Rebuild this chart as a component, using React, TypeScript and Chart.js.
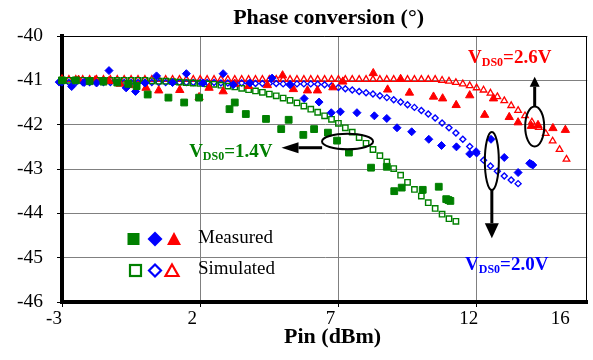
import React, { useEffect, useRef } from 'react';
import { Chart, registerables } from 'chart.js';

Chart.register(...registerables);

// ---------- axes ----------
const X_MIN = -3;
const X_MAX = 16;
const X_TICKS = [-3, 2, 7, 12];
const X_END_LABEL = '16';
const Y_MIN = -46;
const Y_MAX = -40;
const TITLE = 'Phase conversion (°)';
const X_TITLE = 'Pin (dBm)';

// ---------- measured (filled markers) ----------
const MEAS_14_PIN = [-3, -2.5, -2, -1.5, -1, -0.6, -0.3, 0.1, 0.85, 1.42, 1.96, 3.06, 3.25, 3.65, 4.38, 4.93, 5.2, 5.73, 6.12, 6.62, 6.95, 7.38, 8.18, 8.75, 9.02, 9.29, 10.05, 10.63, 10.9, 10.98, 11.05];
const MEAS_14_PHASE = [-41.0, -41.0, -41.02, -41.03, -41.05, -41.08, -41.13, -41.32, -41.39, -41.5, -41.39, -41.65, -41.5, -41.76, -41.87, -42.1, -41.89, -42.23, -42.1, -42.18, -42.36, -42.63, -42.97, -42.95, -43.5, -43.42, -43.47, -43.4, -43.68, -43.7, -43.72];

const MEAS_20_PIN = [-3.1, -2.65, -2.2, -1.75, -1.3, -0.68, -0.34, 0.0, 0.42, 1.0, 1.5, 2.1, 2.83, 3.2, 3.8, 4.6, 5.25, 5.76, 6.3, 6.74, 7.07, 7.67, 8.3, 8.75, 9.12, 9.65, 10.27, 10.73, 11.27, 11.75, 11.98, 12.52, 13.0, 13.5, 13.92, 13.98, 14.03];
const MEAS_20_PHASE = [-41.04, -41.14, -41.05, -41.06, -40.78, -41.17, -41.25, -41.06, -40.9, -41.05, -40.85, -41.06, -40.85, -41.1, -41.06, -40.95, -41.1, -41.41, -41.49, -41.73, -41.71, -41.73, -41.8, -41.86, -42.07, -42.16, -42.33, -42.47, -42.5, -42.66, -42.61, -42.33, -42.74, -43.08, -42.87, -42.89, -42.91];

const MEAS_26_PIN = [-3, -2.4, -1.8, -1.3, -0.9, -0.56, 0.04, 0.5, 1.26, 1.96, 2.32, 2.83, 3.25, 3.75, 4.43, 4.98, 5.37, 5.88, 6.24, 6.8, 7.16, 8.26, 8.78, 9.25, 9.57, 10.44, 10.77, 11.26, 11.75, 12.29, 12.61, 13.18, 13.5, 13.98, 14.22, 14.76, 15.21];
const MEAS_26_PHASE = [-40.98, -40.99, -41.0, -41.02, -41.08, -41.11, -41.17, -41.23, -41.22, -41.38, -41.17, -41.25, -41.08, -41.13, -41.11, -40.89, -41.2, -41.23, -41.23, -41.16, -41.03, -40.84, -41.21, -40.97, -41.28, -41.37, -41.41, -41.56, -41.34, -41.78, -41.41, -41.83, -41.95, -42.03, -42.01, -42.08, -42.12];

// ---------- simulated (hollow markers) ----------
const SIM_14_PIN = [-3, -2.75, -2.5, -2.25, -2, -1.75, -1.5, -1.25, -1, -0.75, -0.5, -0.25, 0, 0.25, 0.5, 0.75, 1, 1.25, 1.5, 1.75, 2, 2.25, 2.5, 2.75, 3, 3.25, 3.5, 3.75, 4, 4.25, 4.5, 4.75, 5, 5.25, 5.5, 5.75, 6, 6.25, 6.5, 6.75, 7, 7.25, 7.5, 7.75, 8, 8.25, 8.5, 8.75, 9, 9.25, 9.5, 9.75, 10, 10.25, 10.5, 10.75, 11, 11.25];
const SIM_14_PHASE = [-41.0, -41.0, -41.0, -41.0, -41.0, -41.0, -41.0, -41.0, -41.0, -41.0, -41.0, -41.0, -41.0, -41.01, -41.02, -41.02, -41.03, -41.04, -41.05, -41.06, -41.07, -41.08, -41.09, -41.11, -41.13, -41.15, -41.18, -41.21, -41.24, -41.27, -41.31, -41.35, -41.4, -41.45, -41.51, -41.58, -41.65, -41.72, -41.8, -41.88, -41.97, -42.07, -42.17, -42.29, -42.42, -42.56, -42.7, -42.84, -42.99, -43.14, -43.3, -43.46, -43.61, -43.76, -43.89, -44.02, -44.12, -44.18];

const SIM_20_PIN = [-3.5, -3.25, -3, -2.75, -2.5, -2.25, -2, -1.75, -1.5, -1.25, -1, -0.75, -0.5, -0.25, 0, 0.25, 0.5, 0.75, 1, 1.25, 1.5, 1.75, 2, 2.25, 2.5, 2.75, 3, 3.25, 3.5, 3.75, 4, 4.25, 4.5, 4.75, 5, 5.25, 5.5, 5.75, 6, 6.25, 6.5, 6.75, 7, 7.25, 7.5, 7.75, 8, 8.25, 8.5, 8.75, 9, 9.25, 9.5, 9.75, 10, 10.25, 10.5, 10.75, 11, 11.25, 11.5, 11.75, 12, 12.25, 12.5, 12.75, 13, 13.25, 13.5];
const SIM_20_PHASE = [-41.05, -41.05, -41.05, -41.05, -41.05, -41.05, -41.05, -41.05, -41.05, -41.05, -41.05, -41.05, -41.05, -41.05, -41.05, -41.05, -41.05, -41.05, -41.05, -41.05, -41.05, -41.05, -41.05, -41.05, -41.05, -41.06, -41.06, -41.06, -41.06, -41.07, -41.07, -41.07, -41.07, -41.07, -41.08, -41.08, -41.08, -41.08, -41.08, -41.09, -41.1, -41.13, -41.16, -41.19, -41.22, -41.25, -41.28, -41.31, -41.35, -41.39, -41.44, -41.49, -41.55, -41.61, -41.68, -41.76, -41.85, -41.96, -42.07, -42.19, -42.33, -42.49, -42.65, -42.8, -42.93, -43.05, -43.16, -43.25, -43.33];

const SIM_26_PIN = [-3.25, -3, -2.75, -2.5, -2.25, -2, -1.75, -1.5, -1.25, -1, -0.75, -0.5, -0.25, 0, 0.25, 0.5, 0.75, 1, 1.25, 1.5, 1.75, 2, 2.25, 2.5, 2.75, 3, 3.25, 3.5, 3.75, 4, 4.25, 4.5, 4.75, 5, 5.25, 5.5, 5.75, 6, 6.25, 6.5, 6.75, 7, 7.25, 7.5, 7.75, 8, 8.25, 8.5, 8.75, 9, 9.25, 9.5, 9.75, 10, 10.25, 10.5, 10.75, 11, 11.25, 11.5, 11.75, 12, 12.25, 12.5, 12.75, 13, 13.25, 13.5, 13.75, 14, 14.25, 14.5, 14.75, 15, 15.25];
const SIM_26_PHASE = [-40.98, -40.98, -40.98, -40.98, -40.98, -40.98, -40.98, -40.98, -40.98, -40.98, -40.98, -40.98, -40.98, -40.98, -40.98, -40.98, -40.98, -40.98, -40.98, -40.98, -40.98, -40.98, -40.98, -40.98, -40.98, -40.98, -40.98, -40.98, -40.98, -40.98, -40.98, -40.98, -40.98, -40.98, -40.98, -40.98, -40.98, -40.98, -40.98, -40.98, -40.98, -40.98, -40.98, -40.98, -40.98, -40.98, -40.98, -40.98, -40.98, -40.98, -40.98, -40.98, -40.98, -40.98, -40.98, -40.98, -41.0, -41.02, -41.05, -41.08, -41.12, -41.17, -41.22, -41.29, -41.37, -41.46, -41.57, -41.68, -41.8, -41.94, -42.06, -42.2, -42.37, -42.56, -42.78];

// ---------- colours ----------
const GREEN = '#008000';
const BLUE = '#0000FF';
const RED = '#FF0000';
const FONT = '"Liberation Serif", "Times New Roman", serif';

// ---------- annotations (value space) ----------
const VDS_LABELS = [
  { text: '1.4V', color: GREEN, x: 1.6, y: -42.73 },
  { text: '2.0V', color: BLUE, x: 11.58, y: -45.28 },
  { text: '2.6V', color: RED, x: 11.69, y: -40.61 },
];
const ELLIPSES = [
  { x: 7.33, y: -42.38, rx: 25.5, ry: 7.7 },
  { x: 12.55, y: -42.82, rx: 7, ry: 29 },
  { x: 14.1, y: -42.04, rx: 9.5, ry: 20 },
];
const ARROWS = [
  { x1: 6.41, y1: -42.52, x2: 4.94, y2: -42.52, head: 17, half: 5.5 },
  { x1: 12.55, y1: -43.47, x2: 12.55, y2: -44.56, head: 15, half: 7 },
  { x1: 14.1, y1: -41.59, x2: 14.1, y2: -40.92, head: 10, half: 5 },
];

const zip = (xs: number[], ys: number[]) => xs.map((x, i) => ({ x, y: ys[i] }));

const overlayPlugin = {
  id: 'overlay',
  afterDraw(chart: any) {
    const { ctx, chartArea: a, scales } = chart;
    const sx = scales.x;
    const sy = scales.y;
    const px = (v: number) => sx.getPixelForValue(v);
    const py = (v: number) => sy.getPixelForValue(v);
    ctx.save();

    // top + right frame
    ctx.strokeStyle = '#000';
    ctx.lineWidth = 1;
    ctx.beginPath();
    ctx.moveTo(a.left, Math.round(a.top) + 0.5);
    ctx.lineTo(a.right, Math.round(a.top) + 0.5);
    ctx.moveTo(Math.round(a.right) - 0.5, a.top);
    ctx.lineTo(Math.round(a.right) - 0.5, a.bottom);
    ctx.stroke();

    // titles
    ctx.fillStyle = '#000';
    ctx.textAlign = 'center';
    ctx.textBaseline = 'middle';
    ctx.font = `bold 22px ${FONT}`;
    ctx.fillText(TITLE, (a.left + a.right) / 2 + 4, 18);
    ctx.fillText(X_TITLE, (a.left + a.right) / 2 + 8, 337);

    // end label of x axis
    ctx.font = `19px ${FONT}`;
    ctx.fillText(X_END_LABEL, px(X_MAX) - 27, a.bottom + 6 + 11.4);

    // ellipses
    ctx.strokeStyle = '#000';
    ctx.lineWidth = 2;
    for (const e of ELLIPSES) {
      ctx.beginPath();
      ctx.ellipse(px(e.x), py(e.y), e.rx, e.ry, 0, 0, Math.PI * 2);
      ctx.stroke();
    }

    // arrows
    ctx.fillStyle = '#000';
    ctx.lineWidth = 3;
    for (const ar of ARROWS) {
      const x1 = px(ar.x1), y1 = py(ar.y1), x2 = px(ar.x2), y2 = py(ar.y2);
      const len = Math.hypot(x2 - x1, y2 - y1);
      const ux = (x2 - x1) / len, uy = (y2 - y1) / len;
      const bx = x2 - ux * ar.head, by = y2 - uy * ar.head;
      ctx.beginPath();
      ctx.moveTo(x1, y1);
      ctx.lineTo(bx, by);
      ctx.stroke();
      ctx.beginPath();
      ctx.moveTo(x2, y2);
      ctx.lineTo(bx - uy * ar.half, by + ux * ar.half);
      ctx.lineTo(bx + uy * ar.half, by - ux * ar.half);
      ctx.closePath();
      ctx.fill();
    }

    // V_DS0 labels
    ctx.textAlign = 'left';
    ctx.textBaseline = 'alphabetic';
    for (const l of VDS_LABELS) {
      const x = px(l.x), y = py(l.y);
      ctx.fillStyle = l.color;
      ctx.font = `bold 19px ${FONT}`;
      ctx.fillText('V', x, y);
      let w = ctx.measureText('V').width;
      ctx.font = `bold 12px ${FONT}`;
      ctx.fillText('DS0', x + w, y + 3);
      w += ctx.measureText('DS0').width;
      ctx.font = `bold 19px ${FONT}`;
      ctx.fillText('=' + l.text, x + w, y);
    }

    // legend
    const L = a.left, T = a.top;
    const row1 = T + 203, row2 = T + 234.5;
    // filled square
    ctx.fillStyle = GREEN;
    ctx.fillRect(L + 65.5, row1 - 6, 12, 12);
    // filled diamond
    ctx.fillStyle = BLUE;
    ctx.beginPath();
    ctx.moveTo(L + 93, row1 - 7.5); ctx.lineTo(L + 100.5, row1); ctx.lineTo(L + 93, row1 + 7.5); ctx.lineTo(L + 85.5, row1);
    ctx.closePath(); ctx.fill();
    // filled triangle
    ctx.fillStyle = RED;
    ctx.beginPath();
    ctx.moveTo(L + 112, row1 - 7); ctx.lineTo(L + 119, row1 + 6); ctx.lineTo(L + 105, row1 + 6);
    ctx.closePath(); ctx.fill();
    // hollow
    ctx.lineWidth = 2.2;
    ctx.strokeStyle = GREEN;
    ctx.strokeRect(L + 68, row2 - 5.5, 11, 11);
    ctx.strokeStyle = BLUE;
    ctx.beginPath();
    ctx.moveTo(L + 93, row2 - 6); ctx.lineTo(L + 99, row2); ctx.lineTo(L + 93, row2 + 6); ctx.lineTo(L + 87, row2);
    ctx.closePath(); ctx.stroke();
    ctx.strokeStyle = RED;
    ctx.beginPath();
    ctx.moveTo(L + 110, row2 - 6); ctx.lineTo(L + 116.5, row2 + 5.5); ctx.lineTo(L + 103.5, row2 + 5.5);
    ctx.closePath(); ctx.stroke();

    ctx.fillStyle = '#000';
    ctx.font = `19px ${FONT}`;
    ctx.textBaseline = 'middle';
    ctx.fillText('Measured', L + 136, row1 - 1);
    ctx.fillText('Simulated', L + 136, row2 - 1);

    ctx.restore();
  },
};

export default function App() {
  const ref = useRef<HTMLCanvasElement>(null);

  useEffect(() => {
    if (!ref.current) return;
    const chart = new Chart(ref.current, {
      type: 'scatter',
      data: {
        datasets: [
          {
            label: 'Measured 1.4V', data: zip(MEAS_14_PIN, MEAS_14_PHASE),
            pointStyle: 'rect', pointRadius: 4.8, backgroundColor: GREEN, borderColor: GREEN, borderWidth: 1, clip: false,
          },
          {
            label: 'Measured 2.0V', data: zip(MEAS_20_PIN, MEAS_20_PHASE),
            pointStyle: 'rectRot', pointRadius: 4, backgroundColor: BLUE, borderColor: BLUE, borderWidth: 1, clip: false,
          },
          {
            label: 'Measured 2.6V', data: zip(MEAS_26_PIN, MEAS_26_PHASE),
            pointStyle: 'triangle', pointRadius: 4.8, backgroundColor: RED, borderColor: RED, borderWidth: 1, clip: false,
          },
          {
            label: 'Simulated 1.4V', data: zip(SIM_14_PIN, SIM_14_PHASE),
            pointStyle: 'rect', pointRadius: 3.8, backgroundColor: 'rgba(255,255,255,0)', borderColor: GREEN, borderWidth: 1.4, clip: false,
          },
          {
            label: 'Simulated 2.0V', data: zip(SIM_20_PIN, SIM_20_PHASE),
            pointStyle: 'rectRot', pointRadius: 3, backgroundColor: 'rgba(255,255,255,0)', borderColor: BLUE, borderWidth: 1.4, clip: false,
          },
          {
            label: 'Simulated 2.6V', data: zip(SIM_26_PIN, SIM_26_PHASE),
            pointStyle: 'triangle', pointRadius: 3.8, backgroundColor: 'rgba(255,255,255,0)', borderColor: RED, borderWidth: 1.3, clip: false,
          },
        ],
      },
      options: {
        animation: false,
        responsive: false,
        maintainAspectRatio: false,
        layout: { padding: { top: 36, right: 2, left: 0, bottom: 0 } },
        plugins: { legend: { display: false }, tooltip: { enabled: false }, title: { display: false } },
        scales: {
          x: {
            type: 'linear',
            min: X_MIN,
            max: X_MAX,
            afterBuildTicks: (s: any) => { s.ticks = X_TICKS.map((v) => ({ value: v })); },
            afterFit: (s: any) => { s.height = 58; },
            ticks: {
              font: { family: FONT, size: 19 },
              color: '#000',
              padding: 1,
              labelOffset: -8,
              maxRotation: 0,
              autoSkip: false,
            },
            grid: { color: '#808080', lineWidth: 1, tickLength: 5, tickColor: '#000' },
            border: { color: '#000', width: 4 },
          },
          y: {
            type: 'linear',
            min: Y_MIN,
            max: Y_MAX,
            afterFit: (s: any) => { s.width = 62; },
            ticks: {
              stepSize: 1,
              font: { family: FONT, size: 19.5 },
              color: '#000',
              padding: 14,
            },
            grid: { color: '#808080', lineWidth: 1, tickLength: 5, tickColor: '#000' },
            border: { color: '#000', width: 4 },
          },
        },
      },
      plugins: [overlayPlugin],
    });
    return () => chart.destroy();
  }, []);

  return (
    <div style={{ position: 'absolute', left: 0, top: 0, width: 593, height: 360, background: '#fff' }}>
      <canvas ref={ref} width={593} height={360} style={{ display: 'block' }} />
    </div>
  );
}
